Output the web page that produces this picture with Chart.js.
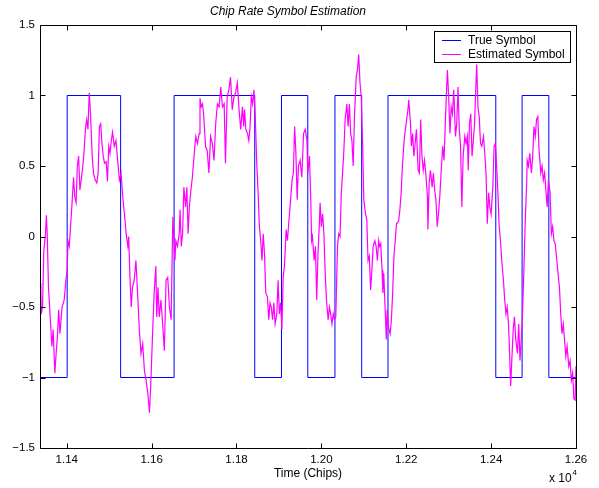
<!DOCTYPE html>
<html>
<head>
<meta charset="utf-8">
<script src="https://cdn.jsdelivr.net/npm/chart.js@4.4.1/dist/chart.umd.min.js"></script>
<style>
  html, body { margin: 0; padding: 0; background: #fff; }
</style>
</head>
<body>
<canvas id="chart" width="599" height="488"></canvas>
<script>
// true symbol: level held from each chip until the next one
const symbolChips  = [11337, 11401, 11527, 11653, 11843, 11906, 11968, 12032, 12095, 12157, 12411, 12473, 12536, 12600];
const symbolLevels = [-1, 1, -1, 1, -1, 1, -1, 1, -1, 1, -1, 1, -1, -1];

// estimated symbol
const estChips = [
  11337, 11339, 11340, 11343, 11346, 11350, 11352, 11354, 11357, 11362, 11365, 11368, 11372, 11375, 11378, 11381,
  11384, 11389, 11394, 11398, 11401, 11403, 11406, 11409, 11412, 11416, 11419, 11422, 11425, 11428, 11431, 11434,
  11438, 11441, 11444, 11447, 11450, 11453, 11456, 11460, 11463, 11467, 11471, 11474, 11477, 11480, 11483, 11486,
  11489, 11493, 11496, 11499, 11502, 11505, 11508, 11512, 11516, 11520, 11524, 11528, 11532, 11536, 11540, 11544,
  11546, 11549, 11552, 11555, 11559, 11563, 11567, 11571, 11575, 11579, 11583, 11587, 11591, 11595, 11599, 11602,
  11606, 11610, 11612, 11615, 11618, 11622, 11626, 11630, 11634, 11638, 11642, 11646, 11650, 11652, 11655, 11657,
  11661, 11665, 11667, 11670, 11673, 11676, 11680, 11683, 11686, 11689, 11692, 11696, 11700, 11704, 11708, 11712,
  11714, 11717, 11720, 11723, 11727, 11731, 11735, 11739, 11743, 11747, 11751, 11755, 11759, 11763, 11767, 11771,
  11774, 11778, 11782, 11786, 11790, 11794, 11798, 11802, 11806, 11810, 11814, 11817, 11819, 11822, 11826, 11829,
  11832, 11835, 11838, 11841, 11844, 11848, 11851, 11854, 11857, 11860, 11863, 11866, 11869, 11873, 11876, 11879,
  11882, 11885, 11888, 11891, 11895, 11898, 11901, 11904, 11907, 11910, 11913, 11917, 11920, 11923, 11927, 11931,
  11934, 11937, 11940, 11943, 11946, 11950, 11954, 11958, 11962, 11966, 11968, 11972, 11975, 11977, 11979, 11983,
  11986, 11989, 11992, 11995, 11997, 12000, 12003, 12006, 12009, 12012, 12016, 12019, 12022, 12025, 12028, 12031,
  12034, 12038, 12041, 12044, 12047, 12050, 12053, 12056, 12060, 12063, 12066, 12069, 12072, 12075, 12078, 12082,
  12085, 12088, 12091, 12094, 12097, 12100, 12104, 12107, 12110, 12113, 12116, 12119, 12122, 12126, 12129, 12132,
  12135, 12137, 12140, 12143, 12145, 12147, 12151, 12153, 12155, 12158, 12162, 12165, 12168, 12171, 12174, 12177,
  12182, 12185, 12188, 12191, 12195, 12198, 12201, 12204, 12206, 12210, 12212, 12215, 12218, 12221, 12224, 12228,
  12231, 12234, 12237, 12240, 12243, 12246, 12250, 12251, 12254, 12257, 12261, 12264, 12267, 12270, 12273, 12276,
  12279, 12283, 12286, 12289, 12292, 12295, 12297, 12300, 12303, 12306, 12309, 12312, 12316, 12319, 12322, 12325,
  12328, 12331, 12334, 12338, 12341, 12344, 12346, 12349, 12352, 12355, 12358, 12361, 12364, 12366, 12369, 12372,
  12375, 12378, 12382, 12385, 12388, 12391, 12394, 12397, 12400, 12404, 12407, 12410, 12413, 12416, 12419, 12422,
  12425, 12429, 12432, 12435, 12438, 12441, 12443, 12446, 12449, 12452, 12455, 12458, 12462, 12465, 12468, 12471,
  12474, 12477, 12480, 12484, 12485, 12488, 12491, 12495, 12498, 12501, 12504, 12507, 12510, 12513, 12517, 12520,
  12523, 12526, 12529, 12532, 12535, 12539, 12542, 12545, 12548, 12551, 12554, 12557, 12561, 12564, 12567, 12570,
  12573, 12576, 12579, 12583, 12586, 12589, 12592, 12595, 12598, 12600
];
const estValues = [
  -0.33, -0.36, -0.55, -0.50, -0.10, 0.02, 0.15, 0.02, -0.36, -0.62, -0.78, -0.66, -0.97, -0.83, -0.71, -0.52,
  -0.69, -0.50, -0.45, -0.31, -0.24, -0.03, -0.07, 0.07, 0.21, 0.42, 0.28, 0.24, 0.50, 0.57, 0.33, 0.40,
  0.50, 0.61, 0.76, 0.83, 0.76, 1.02, 0.87, 0.57, 0.45, 0.40, 0.38, 0.45, 0.78, 0.80, 0.66, 0.57,
  0.52, 0.53, 0.39, 0.64, 0.59, 0.68, 0.74, 0.64, 0.68, 0.54, 0.40, 0.45, 0.28, 0.16, 0.02, -0.07,
  0.00, -0.29, -0.50, -0.36, -0.31, -0.17, -0.40, -0.66, -0.83, -0.76, -0.95, -1.02, -1.11, -1.25, -0.97, -0.71,
  -0.40, -0.21, -0.57, -0.36, -0.57, -0.45, -0.62, -0.81, -0.31, -0.29, -0.50, -0.59, 0.14, 0.02, -0.17, -0.03,
  -0.07, 0.02, 0.19, -0.07, 0.02, 0.35, 0.21, 0.35, 0.02, 0.21, 0.31, 0.42, 0.57, 0.71, 0.66, 0.73,
  0.98, 0.92, 0.94, 0.85, 0.64, 0.61, 0.45, 0.71, 0.66, 0.54, 0.80, 0.94, 0.92, 1.06, 0.92, 0.94,
  0.52, 0.99, 1.04, 1.13, 0.90, 0.99, 1.02, 1.09, 0.90, 0.76, 0.92, 0.78, 0.90, 0.76, 0.73, 0.68,
  0.78, 0.99, 0.94, 1.04, 0.87, 0.50, 0.31, 0.07, -0.03, -0.17, 0.02, -0.12, -0.40, -0.43, -0.59, -0.47,
  -0.50, -0.59, -0.47, -0.62, -0.55, -0.31, -0.55, -0.47, -0.66, -0.29, -0.21, 0.05, -0.03, 0.09, 0.24, 0.40,
  0.45, 0.78, 0.59, 0.26, 0.50, 0.54, 0.42, 0.73, 0.76, 0.68, 0.45, 0.57, 0.26, -0.03, 0.00, -0.17,
  -0.07, -0.45, -0.12, 0.07, 0.24, 0.07, 0.16, 0.02, -0.26, -0.45, -0.59, -0.50, -0.55, -0.62, -0.55, -0.59,
  -0.57, -0.07, 0.02, 0.00, 0.31, 0.45, 0.61, 0.83, 0.94, 0.78, 0.94, 0.73, 0.68, 0.50, 0.85, 1.13,
  1.18, 1.29, 1.09, 0.99, 0.68, 0.26, 0.16, 0.12, -0.17, -0.14, -0.38, -0.24, -0.07, -0.03, -0.07, -0.17,
  -0.03, -0.07, -0.05, -0.24, -0.40, -0.26, -0.57, -0.73, -0.52, -0.64, -0.69, -0.59, -0.40, -0.14, -0.03, 0.09,
  0.11, 0.19, 0.31, 0.50, 0.68, 0.76, 0.83, 0.90, 0.97, 0.80, 0.64, 0.73, 0.57, 0.66, 0.76, 0.47,
  0.45, 0.83, 0.57, 0.47, 0.54, 0.45, 0.28, 0.05, 0.38, 0.47, 0.35, 0.45, 0.33, 0.26, 0.07, 0.16,
  0.28, 0.50, 0.64, 0.54, 0.80, 1.04, 1.18, 0.99, 0.73, 0.92, 0.87, 1.04, 0.71, 0.80, 1.06, 0.76,
  0.64, 0.21, 0.57, 0.71, 0.66, 0.71, 0.47, 0.80, 0.87, 0.57, 0.68, 0.80, 1.06, 1.22, 0.92, 0.85,
  0.66, 0.64, 0.71, 0.59, 0.45, 0.09, 0.31, 0.21, 0.16, 0.35, 0.64, 0.66, 0.50, 0.31, 0.07, -0.03,
  -0.17, -0.31, -0.45, -0.55, -0.50, -0.62, -0.78, -1.06, -0.86, -0.66, -0.57, -0.73, -0.83, -0.62, -0.88, -0.73,
  -0.55, -0.26, 0.07, 0.40, 0.54, 0.50, 0.59, 0.45, 0.57, 0.78, 0.71, 0.83, 0.85, 0.61, 0.45, 0.50,
  0.40, 0.45, 0.33, 0.21, 0.40, 0.31, 0.02, 0.07, -0.03, -0.05, -0.14, -0.24, -0.36, -0.55, -0.69, -0.62,
  -0.73, -0.85, -0.78, -0.92, -0.88, -1.02, -0.97, -1.15, -1.16, -0.92
];

const xTicks = [11400, 11600, 11800, 12000, 12200, 12400, 12600];
const yTicks = [-1.5, -1, -0.5, 0, 0.5, 1, 1.5];
const seriesNames = ['True Symbol', 'Estimated Symbol'];
const seriesColors = ['#0000ff', '#ff00ff'];

const FONT = '"Liberation Sans", Arial, Helvetica, sans-serif';

// box, inward ticks on all four sides, legend and the x10^4 factor
const framePlugin = {
  id: 'frame',
  afterDraw(chart) {
    const { ctx, chartArea: a, scales: { x, y } } = chart;
    const L = Math.round(a.left) + 0.5, R = Math.round(a.right) + 0.5;
    const T = Math.round(a.top) + 0.5, B = Math.round(a.bottom) + 0.5;
    ctx.save();
    ctx.strokeStyle = '#000';
    ctx.lineWidth = 1;
    ctx.beginPath();
    ctx.rect(L, T, R - L, B - T);
    xTicks.forEach(v => {
      const px = Math.round(x.getPixelForValue(v)) + 0.5;
      ctx.moveTo(px, B); ctx.lineTo(px, B - 5);
      ctx.moveTo(px, T); ctx.lineTo(px, T + 5);
    });
    yTicks.forEach(v => {
      const py = Math.round(y.getPixelForValue(v)) + 0.5;
      ctx.moveTo(L, py); ctx.lineTo(L + 5, py);
      ctx.moveTo(R, py); ctx.lineTo(R - 5, py);
    });
    ctx.stroke();

    // legend
    const lx = 434.5, ly = 31.5, lw = 136, lh = 31;
    ctx.fillStyle = '#fff';
    ctx.fillRect(lx, ly, lw, lh);
    ctx.strokeRect(lx, ly, lw, lh);
    ctx.font = '12px ' + FONT;
    ctx.textBaseline = 'middle';
    ctx.textAlign = 'left';
    seriesNames.forEach((name, i) => {
      const ry = Math.round(ly + 8.5 + i * 13.5) + 0.5;
      ctx.strokeStyle = seriesColors[i];
      ctx.beginPath();
      ctx.moveTo(442, ry); ctx.lineTo(461, ry);
      ctx.stroke();
      ctx.fillStyle = '#000';
      ctx.fillText(name, 468, ry);
    });

    // exponent label
    ctx.fillStyle = '#000';
    ctx.font = '12px ' + FONT;
    ctx.fillText('x 10', 549, 479);
    ctx.font = '8px ' + FONT;
    ctx.fillText('4', 572.5, 473);
    ctx.restore();
  }
};

new Chart(document.getElementById('chart'), {
  type: 'line',
  data: {
    datasets: [
      {
        label: seriesNames[1],
        data: estChips.map((c, i) => ({ x: c, y: estValues[i] })),
        borderColor: seriesColors[1],
        borderWidth: 1.2,
        pointRadius: 0,
        tension: 0,
        order: 1
      },
      {
        label: seriesNames[0],
        data: symbolChips.map((c, i) => ({ x: c, y: symbolLevels[i] })),
        borderColor: seriesColors[0],
        borderWidth: 1,
        pointRadius: 0,
        stepped: 'before',
        order: 2
      }
    ]
  },
  options: {
    responsive: false,
    animation: false,
    layout: { padding: { left: 0, right: 23, top: 0, bottom: 0 } },
    plugins: {
      legend: { display: false },
      tooltip: { enabled: false },
      title: {
        display: true,
        text: 'Chip Rate Symbol Estimation',
        color: '#000',
        font: { family: FONT, size: 12, style: 'italic', weight: 'normal', lineHeight: 1.1 },
        padding: { top: 5, bottom: 6.8 }
      }
    },
    scales: {
      x: {
        type: 'linear',
        min: 11337,
        max: 12600,
        grid: { display: false, drawTicks: false },
        border: { display: false },
        afterBuildTicks: s => { s.ticks = xTicks.map(v => ({ value: v })); },
        afterFit: s => { s.height = 40; },
        ticks: {
          color: '#000',
          padding: 5,
          maxRotation: 0,
          autoSkip: false,
          font: { family: FONT, size: 11.5 },
          callback: v => (v / 10000).toFixed(2)
        },
        title: {
          display: true,
          text: 'Time (Chips)',
          color: '#000',
          font: { family: FONT, size: 12 },
          padding: { top: 0, bottom: 7 }
        }
      },
      y: {
        min: -1.5,
        max: 1.5,
        grid: { display: false, drawTicks: false },
        border: { display: false },
        afterBuildTicks: s => { s.ticks = yTicks.map(v => ({ value: v })); },
        afterFit: s => { s.width = 40; },
        ticks: {
          color: '#000',
          padding: 5,
          autoSkip: false,
          font: { family: FONT, size: 11.5 },
          callback: v => (v < 0 ? '\u2212' + Math.abs(v) : String(v))
        }
      }
    }
  },
  plugins: [framePlugin]
});
</script>
</body>
</html>
